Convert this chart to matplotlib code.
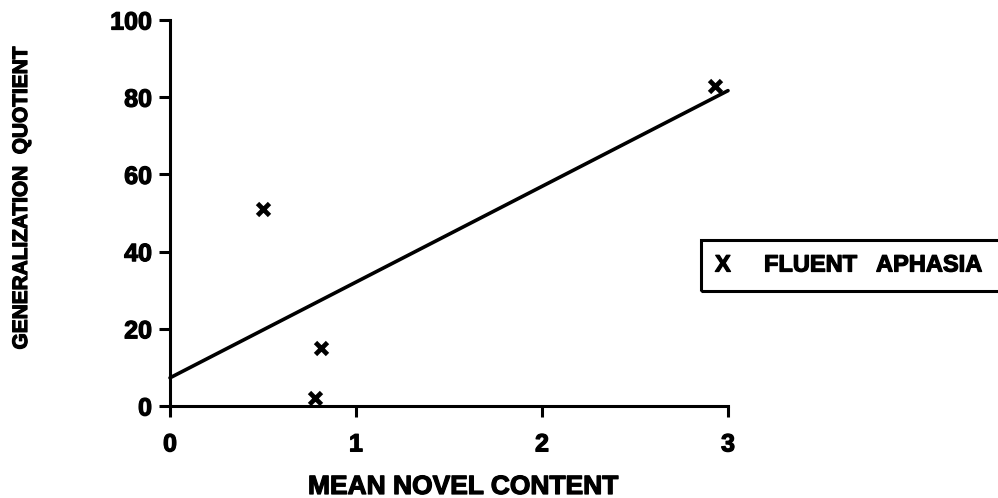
import matplotlib

matplotlib.use("Agg")

import matplotlib.pyplot as plt
import matplotlib.patheffects as pe
from matplotlib.patches import Rectangle

plt.rcParams["font.family"] = ["Liberation Sans", "DejaVu Sans"]
plt.rcParams["font.weight"] = "bold"

# Fluent aphasia subjects: mean novel content vs generalization quotient
novel_content = [0.50, 0.81, 0.78, 2.93]
generalization = [51, 15, 2, 83]

# Fitted regression line
fit_x = [0.0, 3.0]
fit_intercept = 7.3
fit_slope = 24.8

x_ticks = [0, 1, 2, 3]
y_ticks = [0, 20, 40, 60, 80, 100]

# heavier type, like an old typewriter-set figure
heavy = [pe.withStroke(linewidth=0.9, foreground="black")]

fig = plt.figure(figsize=(9.98, 4.98), dpi=100)
ax = fig.add_axes([170 / 998, 1 - 406 / 498, (728 - 170) / 998, (406 - 20) / 498])

fit_y = [fit_intercept + fit_slope * x for x in fit_x]
ax.plot(fit_x, fit_y, color="black", linewidth=2.6, solid_capstyle="round", clip_on=False)
ax.plot(novel_content, generalization, linestyle="none", marker="x", markersize=9,
        markeredgewidth=3.4, color="black", clip_on=False)

ax.set_xlim(0, 3)
ax.set_ylim(0, 100)
ax.set_xticks(x_ticks)
ax.set_yticks(y_ticks)
ax.tick_params(direction="out", length=8, width=2.2, labelsize=18)
ax.tick_params(axis="y", pad=5)
ax.tick_params(axis="x", pad=11)
for lab in ax.get_xticklabels() + ax.get_yticklabels():
    lab.set_fontweight("bold")
    lab.set_path_effects(heavy)

for side in ("top", "right"):
    ax.spines[side].set_visible(False)
for side in ("left", "bottom"):
    ax.spines[side].set_linewidth(2.2)

ax.set_xlabel("MEAN NOVEL CONTENT", fontsize=19, fontweight="bold", path_effects=heavy)
ax.xaxis.set_label_coords((463 - 170) / 558, -(475 - 406) / 386)
ax.set_ylabel("GENERALIZATION  QUOTIENT", fontsize=15, fontweight="bold", path_effects=heavy)
ax.yaxis.set_label_coords(-(170 - 31) / 558, (406 - 198) / 386)

# Legend box, running off the right edge of the figure
fig.add_artist(Rectangle((701 / 998, 1 - 291 / 498), 0.4, 51 / 498,
                         transform=fig.transFigure, facecolor="none",
                         edgecolor="black", linewidth=2.2))
legend_y = 1 - 265 / 498
fig.text(715 / 998, legend_y, "X", fontsize=17, fontweight="bold",
         va="center", ha="left", path_effects=heavy)
fig.text(764 / 998, legend_y, "FLUENT", fontsize=17, fontweight="bold",
         va="center", ha="left", path_effects=heavy)
fig.text(876 / 998, legend_y, "APHASIA", fontsize=17, fontweight="bold",
         va="center", ha="left", path_effects=heavy)

fig.savefig("out.png", dpi=100)
